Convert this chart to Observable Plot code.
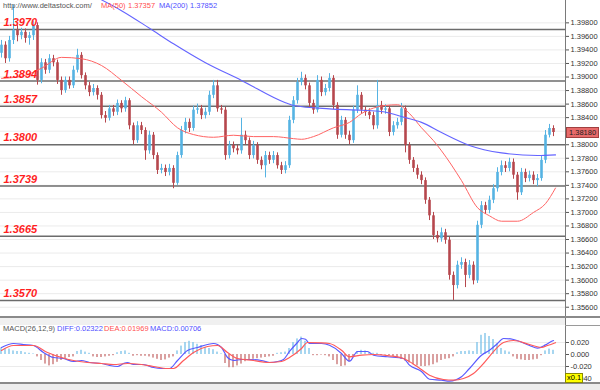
<!DOCTYPE html>
<html><head><meta charset="utf-8">
<script src="https://cdn.jsdelivr.net/npm/d3@7"></script>
<script src="https://cdn.jsdelivr.net/npm/@observablehq/plot@0.6"></script>
<style>
body{margin:0;background:#fff;}
#wrap{position:relative;width:600px;height:390px;overflow:hidden;background:#fff;font-family:"Liberation Sans",Arial,sans-serif;}
.abs{position:absolute;white-space:nowrap;font-size:7.5px;line-height:10px;}
</style></head><body><div id="wrap"></div>
<script>
// ---- candle data (price) ----
const opens=[1.3935,1.3947,1.3927,1.3954,1.3969,1.3961,1.3966,1.3957,1.3961,1.3976,
1.3895,1.3921,1.3910,1.3927,1.3921,1.3895,1.3880,1.3895,1.3887,1.3910,
1.3932,1.3902,1.3887,1.3877,1.3883,1.3873,1.3843,1.3839,1.3853,1.3848,
1.3861,1.3853,1.3865,1.3828,1.3806,1.3828,1.3821,1.3791,1.3814,1.3784,
1.3762,1.3765,1.3759,1.3765,1.3743,1.3784,1.3821,1.3833,1.3824,1.3851,
1.3853,1.3843,1.3848,1.3873,1.3887,1.3853,1.3851,1.3784,1.3799,1.3794,
1.3791,1.3814,1.3806,1.3784,1.3799,1.3777,1.3769,1.3784,1.3777,1.3784,
1.3769,1.3762,1.3769,1.3836,1.3865,1.3892,1.3898,1.3887,1.3861,1.3851,
1.3895,1.3877,1.3883,1.3898,1.3858,1.3814,1.3836,1.3814,1.3806,1.3851,
1.3873,1.3851,1.3848,1.3843,1.3828,1.3858,1.3851,1.3853,1.3818,1.3828,
1.3833,1.3853,1.3799,1.3777,1.3765,1.3755,1.3747,1.3718,1.3695,1.3666,
1.3661,1.3670,1.3659,1.3607,1.3592,1.3622,1.3626,1.3607,1.3622,1.3599,
1.3681,1.3710,1.3703,1.3718,1.3735,1.3759,1.3769,1.3765,1.3774,1.3755,
1.3729,1.3759,1.3750,1.3755,1.3747,1.3750,1.3777,1.3814,1.3824];
const highs=[1.3954,1.3952,1.3960,1.4006,1.3976,1.3972,1.3971,1.3966,1.3983,1.3980,
1.3927,1.3926,1.3933,1.3932,1.3925,1.3900,1.3900,1.3900,1.3916,1.3941,
1.3936,1.3906,1.3892,1.3889,1.3887,1.3877,1.3849,1.3858,1.3858,1.3866,
1.3865,1.3870,1.3868,1.3832,1.3834,1.3833,1.3825,1.3820,1.3818,1.3788,
1.3771,1.3770,1.3771,1.3769,1.3789,1.3827,1.3839,1.3838,1.3857,1.3860,
1.3858,1.3854,1.3879,1.3895,1.3895,1.3858,1.3855,1.3805,1.3804,1.3799,
1.3839,1.3820,1.3810,1.3805,1.3803,1.3782,1.3790,1.3789,1.3790,1.3788,
1.3774,1.3775,1.3842,1.3871,1.3898,1.3907,1.3903,1.3891,1.3866,1.3902,
1.3900,1.3889,1.3905,1.3902,1.3862,1.3842,1.3840,1.3820,1.3857,1.3887,
1.3877,1.3856,1.3853,1.3848,1.3895,1.3864,1.3859,1.3857,1.3834,1.3839,
1.3861,1.3857,1.3803,1.3781,1.3770,1.3760,1.3751,1.3722,1.3700,1.3672,
1.3677,1.3675,1.3663,1.3612,1.3628,1.3633,1.3631,1.3629,1.3627,1.3687,
1.3716,1.3715,1.3724,1.3741,1.3766,1.3776,1.3775,1.3780,1.3779,1.3759,
1.3765,1.3764,1.3761,1.3760,1.3756,1.3783,1.3821,1.3830,1.3828];
const lows=[1.3928,1.3920,1.3922,1.3948,1.3952,1.3955,1.3950,1.3947,1.3954,1.3888,
1.3890,1.3904,1.3905,1.3915,1.3889,1.3873,1.3876,1.3882,1.3883,1.3906,
1.3897,1.3881,1.3871,1.3872,1.3866,1.3838,1.3832,1.3835,1.3842,1.3843,
1.3847,1.3848,1.3822,1.3800,1.3802,1.3815,1.3777,1.3786,1.3778,1.3756,
1.3757,1.3753,1.3754,1.3735,1.3740,1.3780,1.3816,1.3818,1.3820,1.3845,
1.3837,1.3838,1.3843,1.3868,1.3848,1.3845,1.3777,1.3779,1.3788,1.3785,
1.3786,1.3800,1.3778,1.3779,1.3771,1.3763,1.3751,1.3771,1.3772,1.3764,
1.3756,1.3757,1.3765,1.3831,1.3860,1.3887,1.3881,1.3855,1.3845,1.3847,
1.3871,1.3872,1.3878,1.3852,1.3808,1.3810,1.3808,1.3800,1.3802,1.3846,
1.3845,1.3842,1.3837,1.3822,1.3823,1.3845,1.3845,1.3812,1.3813,1.3823,
1.3828,1.3788,1.3771,1.3759,1.3749,1.3741,1.3712,1.3688,1.3660,1.3655,
1.3656,1.3653,1.3600,1.3570,1.3587,1.3616,1.3589,1.3602,1.3593,1.3595,
1.3676,1.3697,1.3698,1.3713,1.3730,1.3754,1.3759,1.3760,1.3749,1.3718,
1.3725,1.3744,1.3745,1.3741,1.3738,1.3746,1.3772,1.3810,1.3812];
const closes=[1.3947,1.3927,1.3954,1.3969,1.3961,1.3966,1.3957,1.3961,1.3976,1.3895,
1.3921,1.3910,1.3927,1.3921,1.3895,1.3880,1.3895,1.3887,1.3910,1.3932,
1.3902,1.3887,1.3877,1.3883,1.3873,1.3843,1.3839,1.3853,1.3848,1.3861,
1.3853,1.3865,1.3828,1.3806,1.3828,1.3821,1.3791,1.3814,1.3784,1.3762,
1.3765,1.3759,1.3765,1.3743,1.3784,1.3821,1.3833,1.3824,1.3851,1.3853,
1.3843,1.3848,1.3873,1.3887,1.3853,1.3851,1.3784,1.3799,1.3794,1.3791,
1.3814,1.3806,1.3784,1.3799,1.3777,1.3769,1.3784,1.3777,1.3784,1.3769,
1.3762,1.3769,1.3836,1.3865,1.3892,1.3898,1.3887,1.3861,1.3851,1.3895,
1.3877,1.3883,1.3898,1.3858,1.3814,1.3836,1.3814,1.3806,1.3851,1.3873,
1.3851,1.3848,1.3843,1.3828,1.3858,1.3851,1.3853,1.3818,1.3828,1.3833,
1.3853,1.3799,1.3777,1.3765,1.3755,1.3747,1.3718,1.3695,1.3666,1.3661,
1.3670,1.3659,1.3607,1.3592,1.3622,1.3626,1.3607,1.3622,1.3599,1.3681,
1.3710,1.3703,1.3718,1.3735,1.3759,1.3769,1.3765,1.3774,1.3755,1.3729,
1.3759,1.3750,1.3755,1.3747,1.3750,1.3777,1.3814,1.3824,1.3818];

// ---- moving averages (bar index, value) ----
const ma50Idx=[0,5,10,15,20,25,30,35,40,44,48,53,58,63,68,73,75,78,83,87,90,96,99,102,105,108,110,115,119,122,125,129,133,136,138.5];
const ma50Val=[1.3898,1.3901,1.3913,1.3929,1.3927,1.3917,1.3895,1.3871,1.3848,1.3825,1.3815,1.3811,1.3814,1.3812,1.3812,1.3809,1.3808,1.3812,1.3825,1.3833,1.3846,1.3858,1.3859,1.3846,1.3825,1.3806,1.3791,1.3747,1.3707,1.3695,1.3687,1.3687,1.3700,1.3713,1.3736];
const ma200Idx=[25,30,37,43,51,60,71,73,82,90,95,101,105,110,117,125,134,138.5];
const ma200Val=[1.4014,1.3998,1.3972,1.3949,1.3921,1.3895,1.3862,1.3858,1.3853,1.3851,1.3849,1.3840,1.3833,1.3818,1.3799,1.3788,1.3784,1.3785];

// ---- levels & ticks ----
const levels=[1.3970,1.3894,1.3857,1.3800,1.3739,1.3665,1.3570];
const priceTicks=[1.398,1.396,1.394,1.392,1.390,1.388,1.386,1.384,1.382,1.380,1.378,1.376,1.374,1.372,1.370,1.368,1.366,1.364,1.362,1.360,1.358,1.356];
const lastPrice=1.38180;

// ---- MACD ----
const macdHist=[0.011,0.010,0.009,0.006,0.005,0.005,0.003,0.002,0.001,-0.004,
-0.010,-0.016,-0.019,-0.017,-0.013,-0.010,-0.007,-0.005,-0.004,0.005,
0.007,0.004,0.002,-0.004,-0.005,-0.005,-0.004,-0.003,-0.002,0.003,
0.005,0.006,0.002,-0.003,-0.002,-0.003,-0.003,-0.004,-0.006,-0.008,
-0.010,-0.009,-0.006,-0.004,0.006,0.014,0.020,0.022,0.020,0.017,
0.015,0.012,0.010,0.008,0.004,0.001,-0.015,-0.022,-0.022,-0.019,
-0.016,-0.012,-0.010,-0.008,-0.007,-0.006,-0.005,-0.004,-0.003,0.002,
0.003,0.004,0.010,0.020,0.026,0.029,0.022,0.010,-0.002,-0.002,
-0.001,-0.002,-0.004,-0.010,-0.017,-0.020,-0.019,-0.012,-0.005,0.005,
0.007,0.006,0.003,0.002,0.002,-0.002,-0.001,-0.002,-0.004,-0.006,
-0.008,-0.011,-0.014,-0.017,-0.019,-0.020,-0.020,-0.019,-0.017,-0.014,
-0.010,-0.008,-0.007,-0.004,0.003,0.005,0.005,0.006,0.005,0.020,
0.032,0.035,0.030,0.025,0.018,0.010,0.006,0.004,-0.004,-0.008,
-0.009,-0.010,-0.010,-0.009,-0.008,-0.002,0.006,0.009,0.007];
const diffIdx=[0,3,5.5,8,10.5,13,15.5,18,20,22,25,27,29,30.5,31.5,33,35.5,38,40,42,44,46.5,49,51.5,53,55,56.5,58,60,62,65,67,69,70.5,72,74,75,76,77,80,82,85,86.5,87,89,91.5,93,96.5,100.5,102,105,107,110,112,115,117,120,122,124,125.5,128,132,134,136,137,138];
const diffVal=[0.0117,0.0183,0.0167,0.0150,0.0033,-0.0050,-0.0067,-0.0117,-0.0100,-0.0133,-0.0150,-0.0183,-0.0200,-0.0150,-0.0133,-0.0167,-0.0167,-0.0217,-0.0233,-0.0233,-0.0100,0.0067,0.0117,0.0167,0.0183,0.0117,-0.0050,-0.0100,-0.0083,-0.0083,-0.0100,-0.0133,-0.0117,-0.0083,0.0050,0.0200,0.0267,0.0255,0.0183,0.0183,0.0155,0.0017,-0.0095,-0.0112,0.0050,0.0050,-0.0012,-0.0038,-0.0067,-0.0178,-0.0283,-0.0412,-0.0428,-0.0445,-0.0372,-0.0233,-0.0012,0.0072,0.0183,0.0267,0.0250,0.0150,0.0105,0.0160,0.0200,0.0233];
const deaIdx=[0,3,8,11.5,15,18,21.5,25,28,31.5,35,38,41.5,43,45.5,48,51.5,54,56.5,59,63,66.5,70,72,75,76.5,80,82,85,87,90,93,97,100.5,104,107,110.5,113,115.5,118,120.5,122,125.5,128,132,135,136.5,138.5];
const deaVal=[0.0067,0.0150,0.0150,0.0033,-0.0050,-0.0100,-0.0133,-0.0150,-0.0167,-0.0150,-0.0167,-0.0200,-0.0233,-0.0233,-0.0100,0.0033,0.0133,0.0150,0.0033,-0.0067,-0.0100,-0.0133,-0.0117,-0.0050,0.0100,0.0200,0.0195,0.0183,0.0072,-0.0038,-0.0012,0.0000,-0.0022,-0.0067,-0.0205,-0.0345,-0.0417,-0.0428,-0.0400,-0.0317,-0.0150,-0.0030,0.0200,0.0233,0.0167,0.0117,0.0150,0.0197];
const macdTicks=[0.02,0,-0.02,-0.04];

// ---- build tables ----
const candles=closes.map((c,i)=>({i,o:opens[i],h:highs[i],l:lows[i],c}));
const bulls=candles.filter(d=>d.c>=d.o), bears=candles.filter(d=>d.c<d.o);
const ma50=ma50Idx.map((i,k)=>({i,v:ma50Val[k]}));
const ma200=ma200Idx.map((i,k)=>({i,v:ma200Val[k]}));
const hist=macdHist.map((v,i)=>({i,v,z:0}));
const histUp=hist.filter(d=>d.v>=0), histDn=hist.filter(d=>d.v<0);
const diff=diffIdx.map((i,k)=>({i,v:diffVal[k]}));
const dea=deaIdx.map((i,k)=>({i,v:deaVal[k]}));

const BULL="#55b3e3", BEAR="#b6474d";
const xDom=[-0.25,141];
const font='"Liberation Sans", Arial, sans-serif';

const main=Plot.plot({
  width:600,height:316,marginLeft:0,marginRight:35,marginTop:0,marginBottom:0,
  x:{domain:xDom,axis:null},
  y:{domain:[1.35463,1.4013],axis:null},
  style:{fontFamily:font,fontSize:"7.5px",color:"#333",background:"transparent",overflow:"visible"},
  marks:[
    Plot.ruleY(priceTicks,{stroke:"#ebebeb",strokeWidth:1}),
    Plot.ruleY(levels,{stroke:"#6c6c6c",strokeWidth:1.5}),
    Plot.ruleX(bulls,{x:"i",y1:"l",y2:"h",stroke:BULL,strokeWidth:1}),
    Plot.ruleX(bears,{x:"i",y1:"l",y2:"h",stroke:BEAR,strokeWidth:1}),
    Plot.ruleX(bulls,{x:"i",y1:"o",y2:"c",stroke:BULL,strokeWidth:2.6}),
    Plot.ruleX(bears,{x:"i",y1:"o",y2:"c",stroke:BEAR,strokeWidth:2.6}),
    Plot.line(ma50,{x:"i",y:"v",stroke:"#ff6464",strokeWidth:1,curve:"monotone-x",clip:true}),
    Plot.line(ma200,{x:"i",y:"v",stroke:"#6464ff",strokeWidth:1.1,curve:"monotone-x",clip:true}),
    Plot.text(levels,{y:d=>d,text:d=>d.toFixed(4),frameAnchor:"left",dx:3,dy:-7,textAnchor:"start",fill:"#ff1e1e",fontWeight:"bold",fontStyle:"italic",fontSize:11}),
    Plot.axisY({anchor:"right",ticks:priceTicks,tickFormat:d=>d.toFixed(5),tickSize:3,tickPadding:2,stroke:"#555",fill:"#333",label:null}),
    Plot.ruleX([xDom[1]],{stroke:"#7a7a7a",strokeWidth:1})
  ]
});
main.style.position="absolute";main.style.left="0";main.style.top="0";

const MTOP=325;
const macd=Plot.plot({
  width:600,height:57,marginLeft:0,marginRight:35,marginTop:0,marginBottom:0,
  x:{domain:xDom,axis:null},
  y:{domain:[-0.04667,0.04833],axis:null},
  style:{fontFamily:font,fontSize:"7.5px",color:"#333",background:"transparent",overflow:"visible"},
  marks:[
    Plot.ruleY([0.02,-0.02],{stroke:"#ebebeb"}),
    Plot.rect(histUp,{x1:d=>d.i-0.17,x2:d=>d.i+0.17,y1:"z",y2:"v",fill:"#7fc4ea"}),
    Plot.rect(histDn,{x1:d=>d.i-0.17,x2:d=>d.i+0.17,y1:"z",y2:"v",fill:"#c97474"}),
    Plot.line(diff,{x:"i",y:"v",stroke:"#5a5aff",strokeWidth:1.2,curve:"monotone-x"}),
    Plot.line(dea,{x:"i",y:"v",stroke:"#ff5a5a",strokeWidth:1.2,curve:"monotone-x"}),
    Plot.axisY({anchor:"right",ticks:macdTicks,tickFormat:d=>d.toFixed(3),tickSize:3,tickPadding:2,stroke:"#555",fill:"#333",label:null}),
    Plot.ruleX([xDom[1]],{stroke:"#7a7a7a",strokeWidth:1})
  ]
});
macd.style.position="absolute";macd.style.left="0";macd.style.top=MTOP+"px";

const wrap=document.getElementById("wrap");
wrap.appendChild(main);wrap.appendChild(macd);

function box(css){const d=document.createElement("div");d.style.cssText="position:absolute;"+css;wrap.appendChild(d);return d;}
function txt(left,top,text,color,extra){const d=document.createElement("div");d.className="abs";d.style.left=left+"px";d.style.top=top+"px";d.style.color=color;if(extra)d.style.cssText+=extra;d.textContent=text;wrap.appendChild(d);return d;}

// separators
box("left:0;top:316px;width:600px;height:2px;background:#8a8a8a;");
box("left:0;top:318px;width:565px;height:7px;background:#f0f0f0;");
box("left:565px;top:318px;width:1px;height:7px;background:#7a7a7a;");
box("left:565px;top:325px;width:35px;height:1px;background:#9a9a9a;");
box("left:0;top:382px;width:600px;height:8px;background:#ededed;");
box("left:0;top:382px;width:600px;height:2px;background:#8a8a8a;");

// header
txt(3,1,"http://www.deltastock.com/","#555");
txt(101,1,"MA(50)","#ff5050");
txt(128,1,"1.37357","#ff5050");
txt(159,1,"MA(200)","#5050ff");
txt(190,1,"1.37852","#5050ff");

// MACD header
txt(3,324,"MACD(26,12,9)","#555");
txt(57,324,"DIFF:0.02322","#5050ff");
txt(104,324,"DEA:0.01969","#ff5050");
txt(150,324,"MACD:0.00706","#5050ff");

// last price box
const yp=main.scale("y").apply(lastPrice);
txt(566,Math.round(yp-5),"1.38180","#222","background:#e86a6a;border:1px solid #a04040;padding:0 2px;height:9px;line-height:9px;");
// scale factor tag
const y40=macd.scale("y").apply(-0.04)+MTOP;
txt(565,Math.round(y40-4.5),"x0.1","#000","background:#ffff00;border:1px solid #8a8a00;padding:0 1px;height:8px;line-height:8px;");
</script></body></html>
